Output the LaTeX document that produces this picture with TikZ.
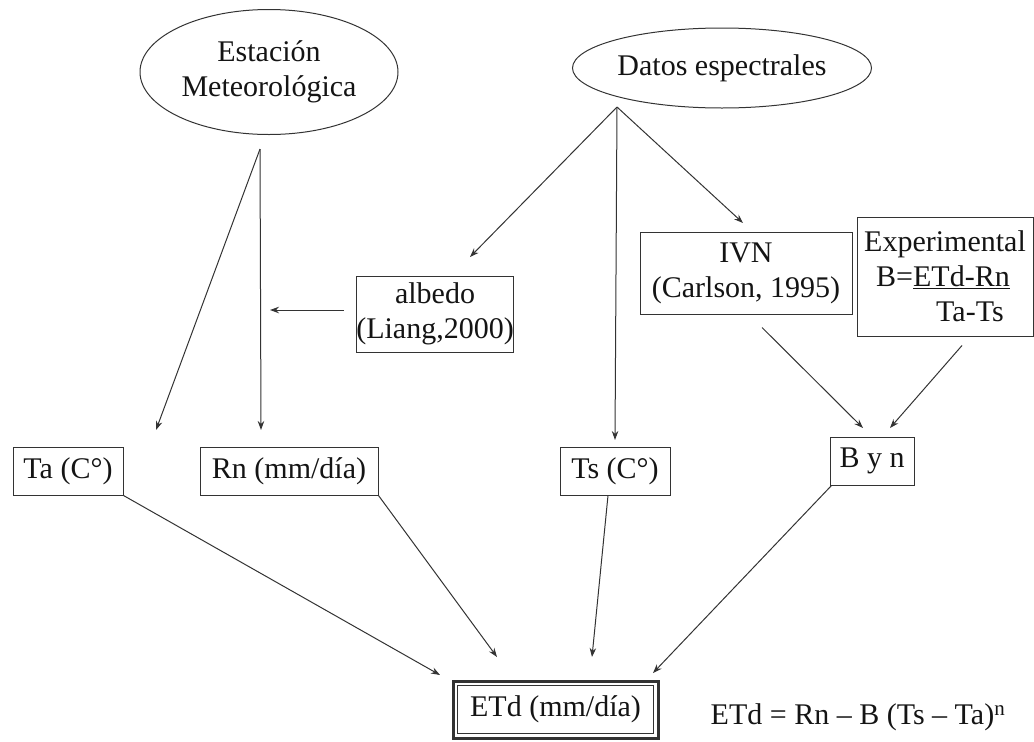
\documentclass[tikz,border=0pt]{standalone}
\usepackage{fontspec}
\setmainfont{Liberation Serif}
\usetikzlibrary{arrows.meta,shapes.geometric,calc}
\definecolor{ln}{HTML}{333333}
\definecolor{tx}{HTML}{141414}
\begin{document}
\begin{tikzpicture}[x=1pt,y=-1pt,
  every node/.style={text=tx,font=\fontsize{30}{35}\selectfont},
  oval/.style={ellipse,draw=ln,line width=1pt,inner sep=0pt},
  box/.style={rectangle,draw=ln,line width=1pt,inner sep=0pt,align=center},
  arr/.style={draw=ln,line width=1pt,-{Stealth[length=9pt,width=6.5pt]}},
  ln/.style={draw=ln,line width=1pt}]
\useasboundingbox (0,0) rectangle (1034,742);
% nodes
\node[oval,minimum width=258,minimum height=125,align=center] (est) at (269,72) {Estación\\Meteorológica};
\node[oval,minimum width=299,minimum height=80] (dat) at (722,68) {Datos espectrales};
\node[box,minimum width=156,minimum height=76] (alb) at (435,314) {albedo\\(Liang,2000)};
\node[box,minimum width=212,minimum height=82] (ivn) at (746,273) {IVN\\(Carlson, 1995)};
\node[box,minimum width=176,minimum height=119,align=left] (exp) at (945,276.5)
  {Experimental\\\hspace*{0.4em}B=\underline{ETd-Rn}\\\hspace*{2.4em}Ta-Ts};
\node[box,minimum width=110,minimum height=48] (ta) at (68,471) {Ta (C°)};
\node[box,minimum width=178,minimum height=48] (rn) at (289,471) {Rn (mm/día)};
\node[box,minimum width=110,minimum height=48] (ts) at (615,471) {Ts (C°)};
\node[box,minimum width=84,minimum height=48] (byn) at (872,461) {B y n};
\node[box,draw=ln,line width=3pt,minimum width=205,minimum height=57] (etd) at (555.5,709.5) {ETd (mm/día)};
\draw[line width=1.2pt,draw=ln] ($(etd.north west)+(6,6)$) rectangle ($(etd.south east)+(-6,-6)$);
\node[inner sep=0pt] (form) at (858,717) {ETd = Rn – B (Ts – Ta)\textsuperscript{n}};
% branch points and tips
\coordinate (apE) at (260,149);
\coordinate (apD) at (617,107);
\coordinate (tTa) at (156,430);
\coordinate (tRn) at (261,430);
\coordinate (tAlbRn) at (270,310);
\coordinate (tAlb) at (470,257);
\coordinate (tTs) at (615,440);
\coordinate (tIvn) at (743,223);
\coordinate (tB1) at (863,428);
\coordinate (tB2) at (890,428);
\coordinate (tE1) at (440,675);
\coordinate (tE2) at (497,657);
\coordinate (tE3) at (592,657);
\coordinate (tE4) at (653,673);
% connectors
\draw[arr] (apE) -- (tTa);
\draw[arr] (apE) -- (tRn);
\draw[arr] ($(alb.west)+(-12,-4)$) -- (tAlbRn);
\draw[arr] (apD) -- (tAlb);
\draw[arr] (apD) -- (tTs);
\draw[arr] (apD) -- (tIvn);
\draw[arr] ($(ivn.south)+(16,13)$) -- (tB1);
\draw[arr] ($(exp.south)+(17,9)$) -- (tB2);
\draw[arr] (ta.south east) -- (tE1);
\draw[arr] (rn.south east) -- (tE2);
\draw[arr] ($(ts.south)+(-7,0)$) -- (tE3);
\draw[arr] ($(byn.south west)+(2,0)$) -- (tE4);
\end{tikzpicture}
\end{document}
